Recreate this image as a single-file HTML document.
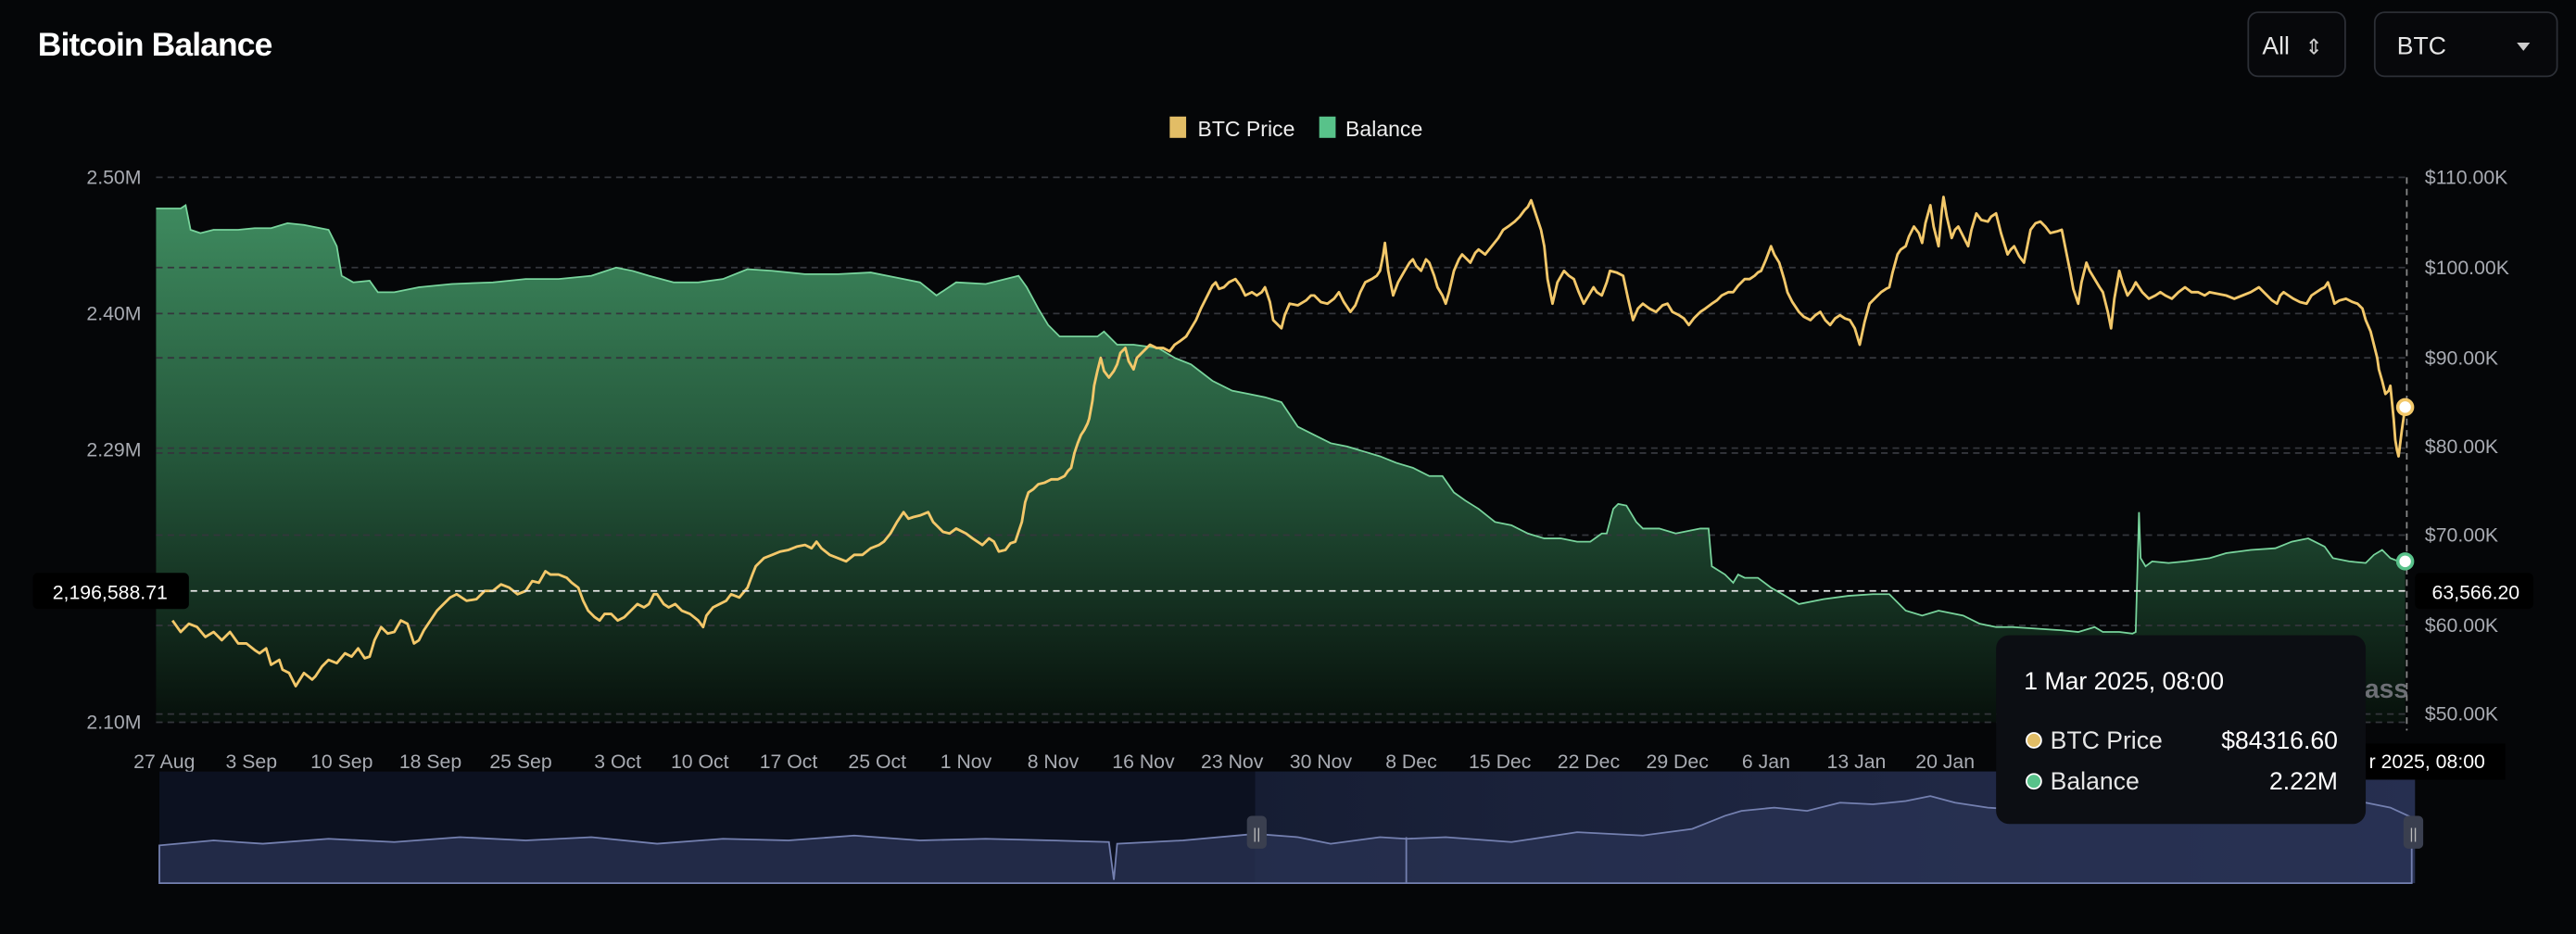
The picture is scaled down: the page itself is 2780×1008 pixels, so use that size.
<!DOCTYPE html>
<html><head><meta charset="utf-8"><style>
html,body{margin:0;padding:0;background:#050608;width:2780px;height:1008px;overflow:hidden}
svg{display:block}
text{font-family:"Liberation Sans",sans-serif}
</style></head><body>
<svg width="2780" height="1008" viewBox="0 0 1568 569" preserveAspectRatio="none" xmlns="http://www.w3.org/2000/svg">
<defs>
<linearGradient id="gf" x1="0" x2="0" y1="120" y2="440" gradientUnits="userSpaceOnUse">
<stop offset="0" stop-color="#3f8c60"/><stop offset="0.5" stop-color="#24563a"/><stop offset="1" stop-color="#07100b"/></linearGradient>
<linearGradient id="nav" x1="0" x2="1" y1="0" y2="0"><stop offset="0" stop-color="#161d33"/><stop offset="1" stop-color="#262f50"/></linearGradient>
</defs>
<rect width="1568" height="569" fill="#050608"/>
<text x="23" y="34" fill="#fff" font-size="20" font-weight="bold" letter-spacing="-0.5">Bitcoin Balance</text>
<rect x="1368.5" y="7.5" width="59" height="39" rx="6" fill="#07080b" stroke="#2c2f36"/>
<text x="1377" y="33" fill="#e6e6e6" font-size="15">All</text>
<text x="1403" y="33" fill="#ccc" font-size="13">⇕</text>
<rect x="1445.5" y="7.5" width="111" height="39" rx="6" fill="#07080b" stroke="#2c2f36"/>
<text x="1459" y="33" fill="#e6e6e6" font-size="15">BTC</text>
<path d="M1532 26 l8 0 l-4 5z" fill="#ccc"/>
<rect x="712" y="71" width="10" height="13" fill="#e2bd66"/>
<text x="729" y="83" fill="#eee" font-size="13">BTC Price</text>
<rect x="803" y="71" width="10" height="13" fill="#58c28a"/>
<text x="819" y="83" fill="#eee" font-size="13">Balance</text>
<path fill="url(#gf)" stroke="none" d="M95,127 L110,127 113,125 116,140 122,142 130,140 145,140 155,139 165,139 175,136 185,137 200,140 205,150 208,168 215,172 225,171 230,178 240,178 255,175 275,173 300,172 320,170 340,170 360,168 375,163 385,165 395,168 410,172 425,172 440,170 455,164 470,165 490,167 510,167 530,166 545,169 560,172 570,180 582,172 600,173 620,168 625,175 632,188 638,198 645,205 660,205 668,205 672,202 680,210 690,210 705,212 715,218 725,222 738,232 750,238 760,240 770,242 780,245 790,260 800,265 810,270 820,272 830,275 840,278 850,282 860,285 870,290 878,290 885,300 892,305 900,310 910,318 920,320 930,325 940,328 950,328 960,330 968,330 975,325 978,325 982,310 985,307 990,308 996,318 1000,322 1010,322 1020,325 1035,322 1040,322 1042,345 1050,350 1055,355 1058,350 1062,352 1070,352 1078,358 1085,362 1095,368 1110,365 1125,363 1140,362 1150,362 1160,372 1170,375 1180,372 1195,375 1205,380 1215,382 1225,382 1240,383 1255,384 1265,385 1275,382 1280,385 1290,385 1298,386 1300,385 1302,312 1303,340 1306,345 1310,342 1320,343 1330,342 1345,340 1355,337 1370,335 1385,334 1395,330 1405,328 1415,333 1420,340 1430,342 1440,343 1445,338 1450,335 1455,340 1460,342 1464,342 L1464,440 L95,440Z"/>
<g stroke="#34363c" stroke-dasharray="4 3" stroke-width="1">
<line x1="95" x2="1465" y1="108" y2="108"/><line x1="95" x2="1465" y1="163" y2="163"/>
<line x1="95" x2="1465" y1="191" y2="191"/><line x1="95" x2="1465" y1="218" y2="218"/>
<line x1="95" x2="1465" y1="273" y2="273"/><line x1="95" x2="1465" y1="276" y2="276"/>
<line x1="95" x2="1465" y1="326" y2="326"/><line x1="95" x2="1465" y1="381" y2="381"/>
<line x1="95" x2="1465" y1="435" y2="435"/><line x1="95" x2="1465" y1="440" y2="440"/>
</g>
<polyline fill="none" stroke="#78d49c" stroke-width="1" points="95,127 110,127 113,125 116,140 122,142 130,140 145,140 155,139 165,139 175,136 185,137 200,140 205,150 208,168 215,172 225,171 230,178 240,178 255,175 275,173 300,172 320,170 340,170 360,168 375,163 385,165 395,168 410,172 425,172 440,170 455,164 470,165 490,167 510,167 530,166 545,169 560,172 570,180 582,172 600,173 620,168 625,175 632,188 638,198 645,205 660,205 668,205 672,202 680,210 690,210 705,212 715,218 725,222 738,232 750,238 760,240 770,242 780,245 790,260 800,265 810,270 820,272 830,275 840,278 850,282 860,285 870,290 878,290 885,300 892,305 900,310 910,318 920,320 930,325 940,328 950,328 960,330 968,330 975,325 978,325 982,310 985,307 990,308 996,318 1000,322 1010,322 1020,325 1035,322 1040,322 1042,345 1050,350 1055,355 1058,350 1062,352 1070,352 1078,358 1085,362 1095,368 1110,365 1125,363 1140,362 1150,362 1160,372 1170,375 1180,372 1195,375 1205,380 1215,382 1225,382 1240,383 1255,384 1265,385 1275,382 1280,385 1290,385 1298,386 1300,385 1302,312 1303,340 1306,345 1310,342 1320,343 1330,342 1345,340 1355,337 1370,335 1385,334 1395,330 1405,328 1415,333 1420,340 1430,342 1440,343 1445,338 1450,335 1455,340 1460,342 1464,342"/>
<polyline fill="none" stroke="#f3c86a" stroke-width="1.6" stroke-linejoin="round" points="105,378 110,385 115,380 120,382 125,388 130,385 135,390 140,385 145,392 150,392 155,396 158,398 162,395 165,405 170,402 172,408 176,410 180,418 185,410 190,414 192,412 196,406 200,402 205,404 210,398 214,400 218,395 222,401 225,400 228,390 232,382 236,386 240,385 244,378 248,380 252,392 255,390 258,384 262,378 266,372 270,368 274,364 278,362 284,366 290,365 295,360 300,360 305,356 310,358 315,362 320,360 324,354 328,355 332,348 335,350 340,350 345,352 348,355 352,358 355,366 358,372 362,376 365,378 368,374 372,374 376,378 380,376 384,372 388,368 392,370 395,368 398,362 400,362 404,368 407,370 411,368 415,372 420,374 425,378 428,382 430,375 434,370 438,368 442,366 445,362 450,364 455,358 458,350 460,345 465,340 470,338 475,336 480,335 485,333 490,332 494,334 497,330 500,334 505,338 510,340 515,342 520,338 525,338 530,334 535,332 538,330 542,325 546,318 550,312 553,316 556,315 560,314 565,312 568,318 570,320 574,324 578,325 582,322 588,325 592,328 598,332 602,328 605,330 608,336 612,335 615,331 618,330 620,324 622,318 624,306 626,300 629,298 632,295 636,294 640,292 644,292 648,290 650,287 652,285 654,276 656,270 658,265 660,262 662,258 663,255 665,244 666,235 668,226 670,218 672,226 675,230 678,226 680,222 682,215 685,212 687,220 690,225 692,218 695,215 698,212 700,210 704,212 708,212 712,214 715,210 718,208 722,205 725,200 728,195 731,188 735,180 738,174 740,172 742,176 745,175 748,172 752,170 755,174 758,180 762,178 765,180 768,178 770,175 773,184 775,195 778,198 780,200 782,192 785,185 790,186 795,183 798,180 800,180 804,184 808,185 812,182 815,178 818,184 822,190 825,186 828,178 831,172 835,170 838,168 840,165 842,155 843,148 845,165 848,180 851,172 855,165 858,160 860,158 862,162 865,165 868,158 870,160 873,168 875,175 878,180 880,185 882,178 885,165 888,158 890,155 893,158 895,160 898,154 900,152 904,155 908,150 912,145 915,140 918,138 922,135 925,132 928,128 930,126 932,122 934,128 936,134 938,140 940,150 942,170 945,185 948,172 952,165 955,168 958,170 961,178 964,185 967,180 970,175 972,178 975,180 978,172 980,165 984,166 988,168 991,182 994,195 997,188 1000,185 1004,188 1008,190 1012,186 1015,185 1018,190 1022,192 1025,194 1028,198 1031,194 1035,190 1038,188 1042,185 1045,183 1048,180 1052,178 1055,178 1058,174 1062,170 1065,170 1068,168 1070,166 1072,165 1075,158 1078,150 1080,155 1083,160 1086,170 1088,178 1091,184 1095,190 1098,193 1102,195 1105,192 1108,190 1111,195 1114,198 1117,194 1120,192 1123,194 1126,195 1129,200 1132,210 1135,196 1138,185 1141,182 1145,178 1148,176 1150,175 1152,166 1155,155 1157,152 1160,150 1162,144 1165,138 1168,142 1170,148 1172,136 1175,125 1177,138 1180,150 1182,128 1183,120 1185,132 1188,145 1190,140 1192,138 1195,144 1198,150 1200,140 1203,130 1206,134 1210,135 1212,132 1215,130 1218,142 1222,155 1224,152 1226,150 1229,156 1232,160 1234,150 1236,140 1239,136 1242,135 1245,138 1248,142 1252,141 1255,140 1257,150 1260,165 1262,176 1265,185 1267,172 1270,160 1272,165 1275,170 1278,175 1280,178 1283,190 1285,200 1287,182 1290,165 1292,172 1295,180 1298,176 1300,172 1304,178 1308,182 1312,180 1315,178 1318,180 1322,182 1326,178 1330,175 1334,178 1338,178 1342,180 1345,178 1350,179 1355,180 1360,182 1365,180 1370,178 1375,175 1378,178 1380,180 1383,183 1386,185 1388,180 1390,178 1393,180 1396,182 1400,184 1404,185 1407,180 1410,178 1413,176 1415,175 1417,172 1419,178 1421,185 1424,183 1428,182 1432,184 1435,185 1438,188 1440,195 1443,202 1445,210 1447,218 1448,225 1450,232 1452,240 1454,238 1455,235 1457,255 1458,268 1459,274 1460,278 1462,262 1464,248"/>
<line x1="95" x2="1465" y1="360" y2="360" stroke="#e8e8e8" stroke-dasharray="4 3"/>
<line x1="1465" x2="1465" y1="108" y2="445" stroke="#888" stroke-dasharray="4 3"/>
<circle cx="1464" cy="248" r="4.5" fill="#fff" stroke="#f3c86a" stroke-width="2"/>
<circle cx="1464" cy="342" r="4.5" fill="#fff" stroke="#58c28a" stroke-width="2"/>
<g fill="#a8abb2" font-size="12">
<text x="86" y="112" text-anchor="end">2.50M</text><text x="86" y="195" text-anchor="end">2.40M</text>
<text x="86" y="278" text-anchor="end">2.29M</text><text x="86" y="444" text-anchor="end">2.10M</text>
<text x="1476" y="112">$110.00K</text><text x="1476" y="167">$100.00K</text><text x="1476" y="222">$90.00K</text>
<text x="1476" y="276">$80.00K</text><text x="1476" y="330">$70.00K</text><text x="1476" y="385">$60.00K</text><text x="1476" y="439">$50.00K</text>
</g>
<rect x="20" y="349" width="95" height="22" rx="3" fill="#000"/>
<text x="67" y="365" fill="#fff" font-size="12" text-anchor="middle">2,196,588.71</text>
<rect x="1470" y="349" width="72" height="22" rx="3" fill="#000"/>
<text x="1507" y="365" fill="#fff" font-size="12" text-anchor="middle">63,566.20</text>
<g fill="#a8abb2" font-size="12" text-anchor="middle">
<text x="100" y="468">27 Aug</text><text x="153" y="468">3 Sep</text><text x="208" y="468">10 Sep</text><text x="262" y="468">18 Sep</text>
<text x="317" y="468">25 Sep</text><text x="376" y="468">3 Oct</text><text x="426" y="468">10 Oct</text><text x="480" y="468">17 Oct</text>
<text x="534" y="468">25 Oct</text><text x="588" y="468">1 Nov</text><text x="641" y="468">8 Nov</text><text x="696" y="468">16 Nov</text>
<text x="750" y="468">23 Nov</text><text x="804" y="468">30 Nov</text><text x="859" y="468">8 Dec</text><text x="913" y="468">15 Dec</text>
<text x="967" y="468">22 Dec</text><text x="1021" y="468">29 Dec</text><text x="1075" y="468">6 Jan</text><text x="1130" y="468">13 Jan</text>
<text x="1184" y="468">20 Jan</text>
</g>
<rect x="97" y="470" width="1373" height="68" fill="#0c1120"/>
<rect x="764" y="470" width="706" height="68" fill="url(#nav)"/>
<path fill="#2a3354" fill-opacity="0.75" stroke="#7480b0" stroke-width="1" d="M97,515 L130,512 160,514 200,511 240,513 280,510 320,512 360,510 400,514 440,511 480,512 520,509 560,512 600,511 640,512 675,513 678,536 680,514 720,512 764,508 790,510 810,514 840,510 856,511 880,510 920,513 960,507 1000,509 1030,505 1050,497 1060,494 1080,492 1100,494 1120,489 1140,490 1160,488 1175,485 1190,489 1210,492 1240,494 1280,495 1320,492 1360,493 1400,492 1440,489 1455,492 1468,498 L1468,538 L97,538Z"/>
<line x1="856" x2="856" y1="510" y2="538" stroke="#7480b0"/>
<rect x="759" y="497" width="12" height="20" rx="3" fill="#3a3f4f"/>
<text x="765" y="511" fill="#bbb" font-size="9" text-anchor="middle">||</text>
<rect x="1463" y="497" width="12" height="20" rx="3" fill="#3a3f4f"/>
<text x="1469" y="511" fill="#bbb" font-size="9" text-anchor="middle">||</text>
<text x="1466" y="425" fill="#6d6f75" font-size="16" font-weight="bold" text-anchor="end">ass</text>
<rect x="1215" y="387" width="225" height="115" rx="8" fill="#0c0e13"/>
<text x="1232" y="420" fill="#fff" font-size="15">1 Mar 2025, 08:00</text>
<circle cx="1238" cy="451" r="4.5" fill="#e2bd66" stroke="#fff" stroke-width="1"/>
<text x="1248" y="456" fill="#e6e6e6" font-size="15">BTC Price</text>
<text x="1423" y="456" fill="#fff" font-size="15" text-anchor="end">$84316.60</text>
<circle cx="1238" cy="476" r="4.5" fill="#58c28a" stroke="#fff" stroke-width="1"/>
<text x="1248" y="481" fill="#e6e6e6" font-size="15">Balance</text>
<text x="1423" y="481" fill="#fff" font-size="15" text-anchor="end">2.22M</text>
<rect x="1440" y="453" width="85" height="22" fill="#000"/>
<text x="1442" y="468" fill="#fff" font-size="12">r 2025, 08:00</text>
</svg>
</body></html>
